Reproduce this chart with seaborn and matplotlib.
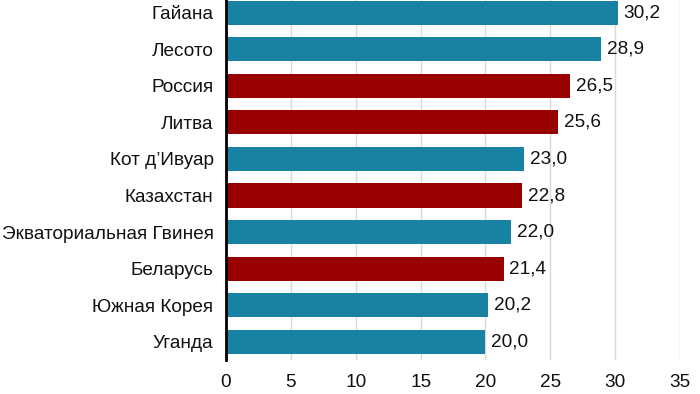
import matplotlib
matplotlib.use("Agg")
import matplotlib.pyplot as plt
import seaborn as sns
import pandas as pd

countries = ["Гайана", "Лесото", "Россия", "Литва", "Кот д’Ивуар", "Казахстан",
             "Экваториальная Гвинея", "Беларусь", "Южная Корея", "Уганда"]
values = [30.2, 28.9, 26.5, 25.6, 23.0, 22.8, 22.0, 21.4, 20.2, 20.0]
groups = ["other", "other", "post", "post", "other", "post", "other", "post", "other", "other"]
palette = {"other": "#1782a1", "post": "#990000"}
xticks = [0, 5, 10, 15, 20, 25, 30, 35]

df = pd.DataFrame({"country": countries, "value": values, "group": groups})

sns.set_theme(style="white")
plt.rcParams["font.family"] = ["Liberation Sans", "DejaVu Sans"]

fig = plt.figure(figsize=(7, 3.94), dpi=100)
ax = fig.add_axes([226/700, 1 - 360/394, 454/700, 360/394])
sns.barplot(data=df, y="country", x="value", hue="group", palette=palette,
            dodge=False, legend=False, width=0.66, ax=ax, zorder=3,
            saturation=1, edgecolor="none", linewidth=0)

for i, v in enumerate(values):
    ax.text(v + 0.45, i, f"{v:.1f}".replace(".", ","), va="center", ha="left",
            fontsize=13.7, color="#111111")

ax.set_xlim(0, 35)
ax.set_ylim(9.5, -0.35)
ax.set_xticks(xticks)
ax.set_xticklabels([str(t) for t in xticks])
ax.xaxis.grid(True, color="#d9d9d9", linewidth=1, zorder=0)
ax.yaxis.grid(False)
ax.set_xlabel("")
ax.set_ylabel("")
for s in ["top", "right", "bottom"]:
    ax.spines[s].set_visible(False)
ax.spines["left"].set_color("black")
ax.spines["left"].set_linewidth(2)
ax.spines["left"].set_zorder(5)
ax.tick_params(axis="both", length=0, labelsize=13.7, colors="#111111")
ax.tick_params(axis="x", pad=10)
ax.tick_params(axis="y", pad=9)

fig.savefig("out.png", dpi=100)
